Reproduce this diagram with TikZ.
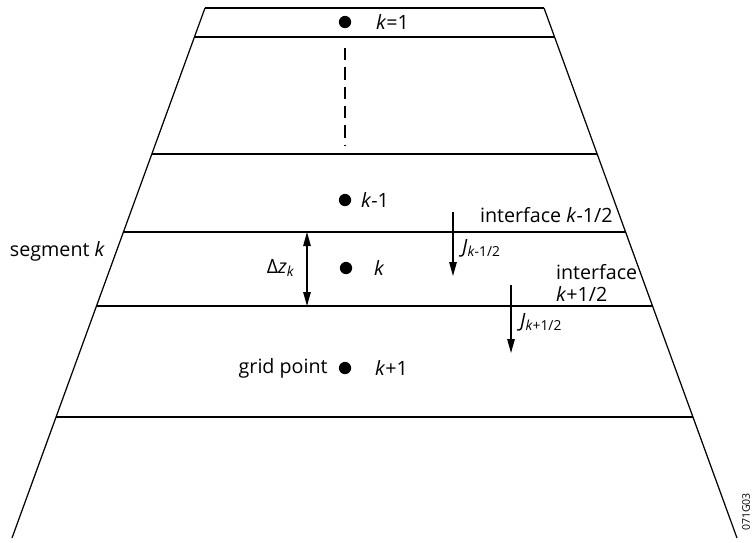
\documentclass[tikz,border=0pt]{standalone}
\usepackage{fontspec}
\setmainfont{Open Sans}
\usetikzlibrary{arrows.meta, positioning, calc}
\tikzstyle{wall} = [line width=0.7pt]
\tikzstyle{layer} = [line width=0.9pt]
\tikzstyle{gridpt} = [circle, fill=black, inner sep=0pt, minimum size=7pt]
\tikzstyle{flux} = [line width=0.7pt, -{Triangle[length=2.8mm, width=1.5mm]}]
\tikzstyle{lbl} = [inner sep=1pt, font=\fontsize{11.2}{13}\selectfont]

\begin{document}
\begin{tikzpicture}[x=0.02cm, y=-0.02cm]
    \useasboundingbox (0,0) rectangle (754,542);
    % outer walls
    \coordinate (tl) at (205,8);
    \coordinate (tr) at (544,8);
    \coordinate (bl) at (12,538);
    \coordinate (br) at (737,538);
    \draw[wall] (tl) -- (bl);
    \draw[wall] (tr) -- (br);
    % layer boundaries
    \foreach \n/\t in {a/0, b/0.0547, c/0.2755, d/0.4226, e/0.5623, f/0.7717} {
        \coordinate (l\n) at ($(tl)!\t!(bl)$);
        \coordinate (r\n) at ($(tr)!\t!(br)$);
        \draw[layer] (l\n) -- (r\n);
    }

    % grid points
    \node[gridpt] (p1) at (345,22) {};
    \node[lbl, anchor=west] (k1) at (374,22) {\textit{k}=1};
    \coordinate (dtop) at (345,48);
    \coordinate (dbot) at (345,145);
    \draw[line width=0.8pt, dash pattern=on 7pt off 4pt] (dtop) -- (dbot);

    \node[gridpt] (p2) at (345,200) {};
    \node[lbl, anchor=west] (km) at (359,200) {\textit{k}-1};
    \node[gridpt] (p3) at (346,268) {};
    \node[lbl, anchor=west] (k) at (372,268) {\textit{k}};
    \node[gridpt] (p4) at (345,368) {};
    \node[lbl, anchor=west] (kp) at (373,368) {\textit{k}+1};
    \node[lbl, left=5pt of p4] (gp) {grid point};

    % segment thickness
    \coordinate (dz1) at (307,232);
    \coordinate (dz2) at (307,306);
    \draw[flux, {Triangle[length=2.8mm, width=1.5mm]}-{Triangle[length=2.8mm, width=1.5mm]}] (dz1) -- (dz2);
    \node[lbl, anchor=east] (dz) at (297,268) {Δ\textit{z}\textsubscript{\textit{k}}};
    \node[lbl, anchor=east] (seg) at (107,251) {segment \textit{k}};

    % fluxes
    \coordinate (j1s) at (453,212);
    \coordinate (j1e) at (453,276);
    \draw[flux] (j1s) -- (j1e);
    \node[lbl, anchor=west] (j1) at (460,248) {\textit{J}\textsubscript{\textit{k}-1/2}};
    \node[lbl, anchor=base west] (if1) at (478,222) {interface \textit{k}-1/2};

    \coordinate (j2s) at (511,285);
    \coordinate (j2e) at (511,353);
    \draw[flux] (j2s) -- (j2e);
    \node[lbl, anchor=west] (j2) at (518,322) {\textit{J}\textsubscript{\textit{k}+1/2}};
    \node[lbl, anchor=west, align=left] (if2) at (554,283) {interface\\\textit{k}+1/2};

    \node[rotate=90, inner sep=0pt, font=\fontsize{6}{7}\selectfont] (fig) at (746,512) {071G03};
\end{tikzpicture}
\end{document}
